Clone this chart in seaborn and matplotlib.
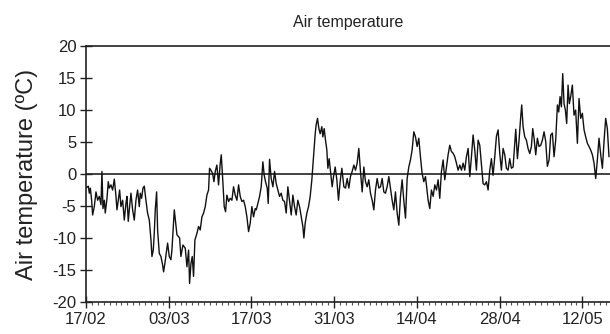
import pandas as pd
import matplotlib
matplotlib.use("Agg")
import matplotlib.pyplot as plt
import matplotlib.dates as mdates
import seaborn as sns

# Air temperature record (days since 17/02, degC)
start_date = "2009-02-17"
day_offset = [
    0.00, 0.39, 0.56, 0.73, 0.95, 1.12, 1.40, 1.69, 1.97, 2.25, 2.53, 2.70, 2.87, 3.10, 3.26,
    3.55, 3.77, 3.94, 4.22, 4.50, 4.79, 5.07, 5.24, 5.46, 5.69, 5.91, 6.20, 6.48, 6.76, 6.93,
    7.15, 7.38, 7.61, 7.89, 8.17, 8.45, 8.73, 9.02, 9.18, 9.41, 9.64, 9.86, 10.14, 10.42, 10.71,
    10.99, 11.16, 11.38, 11.55, 11.72, 11.95, 12.12, 12.40, 12.68, 12.96, 13.13, 13.36, 13.64, 13.81, 14.09,
    14.37, 14.54, 14.94, 15.39, 15.84, 16.06, 16.40, 16.80, 17.08, 17.36, 17.53, 17.76, 17.98, 18.20, 18.43,
    18.77, 19.05, 19.33, 19.62, 19.90, 20.18, 20.46, 20.74, 20.91, 21.14, 21.42, 21.65, 21.87, 22.15, 22.43,
    22.72, 22.89, 23.11, 23.39, 23.62, 23.84, 24.13, 24.41, 24.69, 24.97, 25.25, 25.54, 25.82, 26.10, 26.38,
    26.66, 26.95, 27.23, 27.51, 27.79, 28.07, 28.35, 28.64, 28.81, 29.09, 29.37, 29.65, 29.93, 30.16, 30.38,
    30.67, 30.84, 31.06, 31.34, 31.63, 31.91, 32.19, 32.47, 32.75, 33.03, 33.32, 33.60, 33.88, 34.16, 34.44,
    34.73, 35.01, 35.29, 35.57, 35.85, 36.14, 36.42, 36.70, 36.87, 37.09, 37.38, 37.66, 37.94, 38.22, 38.50,
    38.79, 38.95, 39.18, 39.41, 39.63, 39.91, 40.08, 40.31, 40.53, 40.76, 40.93, 41.15, 41.38, 41.66, 41.89,
    42.17, 42.45, 42.73, 43.01, 43.30, 43.64, 43.92, 44.20, 44.48, 44.76, 45.04, 45.33, 45.61, 45.89, 46.17,
    46.45, 46.74, 47.02, 47.30, 47.58, 47.86, 48.14, 48.43, 48.71, 48.99, 49.27, 49.56, 49.84, 50.12, 50.40,
    50.68, 50.96, 51.25, 51.53, 51.81, 52.09, 52.37, 52.66, 52.94, 53.22, 53.50, 53.78, 54.07, 54.35, 54.63,
    54.91, 55.19, 55.48, 55.76, 56.04, 56.32, 56.60, 56.88, 57.17, 57.45, 57.73, 57.90, 58.18, 58.46, 58.75,
    59.03, 59.31, 59.59, 59.87, 60.15, 60.44, 60.72, 61.00, 61.28, 61.56, 61.85, 62.13, 62.41, 62.69, 62.97,
    63.26, 63.54, 63.82, 64.10, 64.38, 64.67, 64.95, 65.23, 65.51, 65.79, 66.07, 66.36, 66.64, 66.92, 67.20,
    67.48, 67.77, 68.05, 68.33, 68.61, 68.89, 69.18, 69.46, 69.74, 70.02, 70.30, 70.59, 70.87, 71.15, 71.43,
    71.71, 71.99, 72.28, 72.73, 73.01, 73.29, 73.57, 73.74, 73.97, 74.25, 74.53, 74.81, 75.10, 75.38, 75.60,
    75.83, 76.11, 76.39, 76.67, 76.96, 77.24, 77.52, 77.80, 78.08, 78.37, 78.65, 78.93, 79.21, 79.49, 79.78,
    80.00, 80.23, 80.45, 80.68, 80.90, 81.13, 81.35, 81.58, 81.80, 82.03, 82.31, 82.59, 82.87, 83.16, 83.44,
    83.72, 84.00, 84.29, 84.57, 84.85, 85.13, 85.41, 85.70, 85.98, 86.26, 86.54, 86.82, 87.11, 87.39, 87.67,
    87.95, 88.23, 88.51,
]
air_temp = [
    -2.2, -1.9, -3.0, -2.2, -4.1, -6.4, -5.1, -2.8, -4.1, -3.5, -4.8, 0.4, -5.4, -4.1, -6.1,
    -3.8, -1.2, -2.2, -1.7, -2.5, -0.8, -3.5, -5.6, -4.1, -2.5, -5.1, -4.1, -7.2, -4.6, -3.5,
    -7.4, -5.1, -3.0, -5.6, -7.2, -4.1, -2.5, -5.1, -3.0, -3.8, -2.2, -1.9, -4.1, -6.1, -7.2,
    -10.3, -12.9, -11.9, -9.3, -5.6, -2.8, -8.8, -12.4, -12.9, -14.2, -15.3, -13.9, -11.9, -10.8, -12.9,
    -13.4, -11.9, -5.6, -9.5, -10.0, -12.9, -11.1, -11.6, -14.5, -11.9, -17.1, -14.0, -12.9, -16.0, -10.3,
    -9.3, -8.2, -8.75, -6.7, -6.1, -5.1, -3.3, -2.5, 0.9, 0.6, 0.1, -1.2, 0.4, 1.4, -1.7,
    1.7, 3.0, -0.4, -5.1, -5.9, -3.3, -4.3, -3.8, -4.1, -2.0, -3.3, -4.1, -1.7, -3.5, -4.3,
    -4.1, -5.1, -6.7, -9.0, -7.7, -5.1, -6.7, -5.4, -5.6, -4.6, -3.5, -2.0, 1.9, -0.2, -1.2,
    -2.2, -4.6, 2.3, -0.7, -2.0, 0.4, -1.5, -2.5, -3.5, -3.0, -4.1, -4.3, -6.1, -2.0, -4.1,
    -6.4, -3.3, -5.1, -6.4, -4.1, -5.1, -6.7, -8.2, -10.0, -7.7, -6.1, -5.1, -3.5, -0.9, 2.7,
    6.3, 7.7, 8.7, 7.1, 6.3, 7.4, 5.8, 7.1, 5.3, 3.75, 0.9, 2.4, 0.4, -2.0, -0.4,
    1.1, -0.9, -4.1, -1.2, 0.9, -2.0, -2.2, -0.7, -2.2, -0.4, 0.4, 1.4, 0.6, 1.7, 4.0,
    0.4, -2.8, 1.1, -1.2, -2.0, -0.9, -3.0, -4.1, -5.6, -2.5, -0.7, -2.2, -2.0, -0.7, -2.8,
    -3.0, -2.0, -0.4, -2.2, -4.1, -5.6, -2.8, -6.1, -8.0, -3.5, -0.9, -4.1, -6.9, -0.7, 1.1,
    2.2, 3.75, 6.6, 5.8, 4.3, 5.6, 2.7, 0.1, -1.2, -0.4, -2.8, -4.1, -5.4, -2.5, -3.5,
    -1.7, -2.5, -0.9, -3.8, 0.4, 2.2, -0.9, 1.1, 3.0, 4.5, 3.5, 3.25, 2.7, 1.7, 0.6,
    1.4, 0.6, 1.7, 0.6, 2.7, 4.0, -0.4, 2.7, 6.1, 3.75, 0.6, 5.3, 4.5, 1.4, -1.5,
    -1.7, -1.2, -2.5, 0.6, 2.4, -0.2, 2.7, 5.9, 6.9, 3.25, 0.6, 4.0, 3.0, 0.9, 0.6,
    2.4, 0.9, 1.1, 7.0, 2.4, 5.3, 8.95, 10.8, 7.4, 5.8, 5.3, 4.0, 3.2, 4.3, 7.1,
    5.6, 3.0, 5.6, 4.3, 4.5, 5.3, 6.6, 5.1, 1.2, 2.2, 6.1, 6.4, 2.7, 5.3, 10.8,
    9.7, 12.1, 10.5, 15.7, 11.0, 10.0, 7.9, 13.9, 11.0, 12.1, 13.9, 9.2, 10.0, 4.8, 11.8,
    8.7, 9.5, 6.9, 5.8, 4.8, 4.3, 3.75, 3.0, 1.7, -0.7, 2.2, 5.6, 3.0, 0.9, 5.1,
    8.7, 7.1, 2.7,
]
x_end_days = 88.68

major_tick_dates = ["2009-02-17", "2009-03-03", "2009-03-17", "2009-03-31",
                    "2009-04-14", "2009-04-28", "2009-05-12"]
y_ticks = [-20, -15, -10, -5, 0, 5, 10, 15, 20]

base = pd.Timestamp(start_date)
df = pd.DataFrame({
    "time": base + pd.to_timedelta(day_offset, unit="D"),
    "temp": air_temp,
})

sns.set_style("ticks")
plt.rcParams["font.family"] = ["Liberation Sans", "DejaVu Sans"]
plt.rcParams["axes.unicode_minus"] = False

fig = plt.figure(figsize=(6.1, 3.34), dpi=100)
ax = fig.add_axes([0.141, 0.096, 0.859, 0.766])

sns.lineplot(data=df, x="time", y="temp", ax=ax, color="#111111", linewidth=1.0)
ax.axhline(0, color="#222222", linewidth=1.2, zorder=1)

ax.set_xlim(base, base + pd.Timedelta(days=x_end_days))
ax.set_ylim(-20, 20)
ax.set_yticks(y_ticks)
ax.set_xticks(pd.to_datetime(major_tick_dates))
ax.xaxis.set_major_formatter(mdates.DateFormatter("%d/%m"))
ax.xaxis.set_minor_locator(mdates.DayLocator())

ax.tick_params(axis="both", which="major", labelsize=12, direction="inout",
               length=8, width=1, color="#222222", labelcolor="#222222")
ax.tick_params(axis="x", which="minor", direction="out", length=2, width=0.8,
               color="#555555")
ax.tick_params(axis="y", which="major", pad=3)

for side in ["left", "bottom", "top"]:
    ax.spines[side].set_color("#222222")
    ax.spines[side].set_linewidth(1.2)
ax.spines["right"].set_visible(False)

ax.set_xlabel("")
ax.set_ylabel("Air temperature (ºC)", fontsize=17, color="#222222", labelpad=10)
ax.set_title("Air temperature", fontsize=11.5, color="#222222", pad=14)

fig.savefig("out.png", dpi=100)
